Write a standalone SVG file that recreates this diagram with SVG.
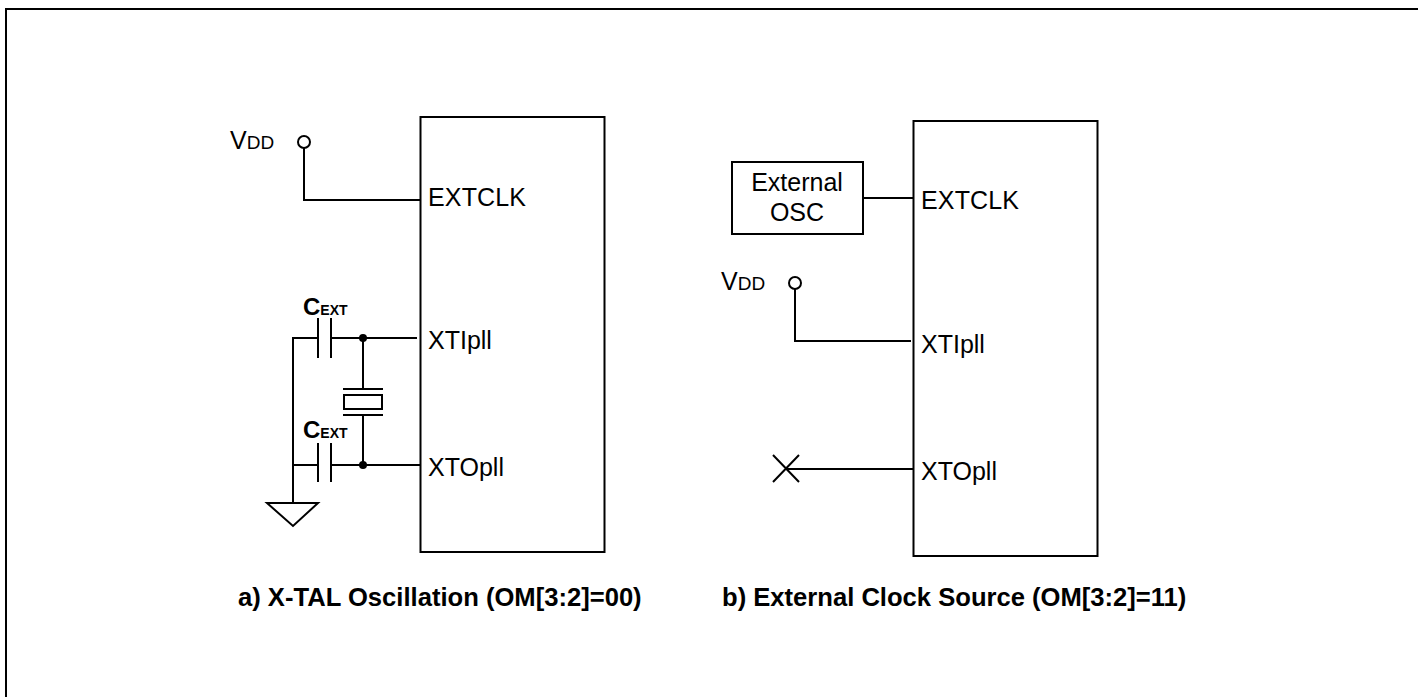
<svg xmlns="http://www.w3.org/2000/svg" width="1418" height="697" viewBox="0 0 1418 697">
<style>
.l{fill:none;stroke:#000;stroke-width:2}
.t{font-family:"Liberation Sans",Arial,sans-serif;font-size:25px;fill:#000}
.s{font-size:19px}
.b{font-family:"Liberation Sans",Arial,sans-serif;font-size:25.6px;font-weight:bold;fill:#000}
.cc{font-family:"Liberation Sans",Arial,sans-serif;font-size:24px;font-weight:bold;fill:#000}
</style>
<rect width="1418" height="697" fill="#fff"/>
<path id="frame" d="M6 697V9H1418" fill="none" stroke="#000" stroke-width="2"/>
<g id="chip-a"><rect class="l" x="420.500" y="117" width="184" height="435"/>
<text class="t" x="428" y="206" textLength="98">EXTCLK</text><text class="t" x="428" y="349">XTIpll</text><text class="t" x="428" y="476">XTOpll</text></g>
<g id="chip-b"><rect class="l" x="913.500" y="121" width="184" height="435"/>
<text class="t" x="921" y="209" textLength="98">EXTCLK</text><text class="t" x="921" y="353">XTIpll</text><text class="t" x="921" y="480">XTOpll</text></g>
<g id="vdd-a"><text class="t" x="230" y="149">V<tspan class="s">DD</tspan></text><circle class="l" cx="304" cy="142" r="6"/></g>
<g id="vdd-b"><text class="t" x="721" y="290">V<tspan class="s">DD</tspan></text><circle class="l" cx="795" cy="283" r="6"/></g>
<g id="osc"><rect class="l" x="732" y="162" width="131" height="72"/>
<text class="t" x="797" y="191" text-anchor="middle">External</text><text class="t" x="797" y="221" text-anchor="middle">OSC</text></g>
<g id="cext-1"><text class="cc" x="303" y="315">C<tspan font-size="14">EXT</tspan></text><path class="l" d="M318 318V358M331 318V358"/></g>
<g id="cext-2"><text class="cc" x="303" y="438">C<tspan font-size="14">EXT</tspan></text><path class="l" d="M318 443V482M331 443V482"/></g>
<g id="crystal"><rect class="l" x="344" y="395" width="38" height="14"/><path class="l" d="M343 389H383M343 415H383"/></g>
<g id="ground"><path class="l" d="M267 503H318L293 526Z"/></g>
<g id="no-connect"><path class="l" d="M773 455L799 482M799 455L773 482"/></g>
<g id="connectors"><path class="l" d="M304 148V200H420"/>
<path class="l" d="M293 503V338H318M331 338H417M363 338V389M363 415V465M293 465H318M331 465H420"/>
<circle cx="363" cy="338" r="4"/><circle cx="363" cy="465" r="4"/>
<path class="l" d="M863 198H913M795 289V341H911M785 469H913"/></g>
<g id="captions"><text class="b" x="238" y="606">a) X-TAL Oscillation (OM[3:2]=00)</text><text class="b" x="722" y="606">b) External Clock Source (OM[3:2]=11)</text></g>
</svg>
